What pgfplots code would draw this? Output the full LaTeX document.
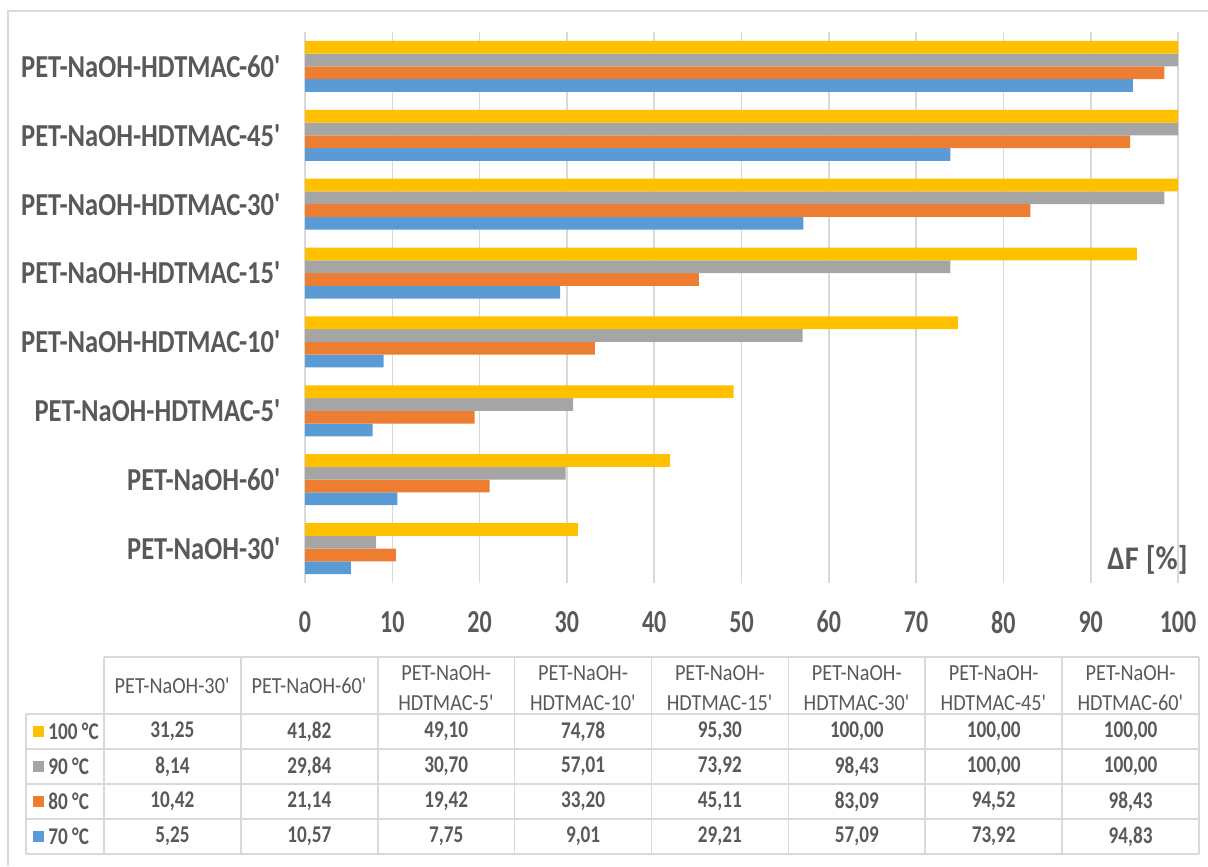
\documentclass[border=0pt]{standalone}
\usepackage{pgfplots}
\pgfplotsset{compat=1.18}
\usepackage{fontspec}
\setmainfont{Carlito}
\newfontfamily\chartfont{Carlito}[FakeStretch=0.75]
\newfontfamily\labelfont{Carlito}[FakeStretch=0.83]
\newfontfamily\unitfont{Carlito}[FakeStretch=0.92]
\newfontfamily\tablefont{Carlito}[FakeStretch=0.8]
\newfontfamily\headfont{Carlito}[FakeStretch=0.88]

\definecolor{c70}{HTML}{5B9BD5}
\definecolor{c80}{HTML}{ED7D31}
\definecolor{c90}{HTML}{A5A5A5}
\definecolor{c100}{HTML}{FFC000}
\definecolor{txt}{HTML}{595959}
\definecolor{rulegray}{HTML}{D9D9D9}

\newcommand\q{\textquotesingle}
% column centres of the data table (pixel units)
\newcommand\row[9]{%
  \node[cell] at (172.4,#1) {#2};
  \node[cell] at (309.3,#1) {#3};
  \node[cell] at (446.2,#1) {#4};
  \node[cell] at (583.1,#1) {#5};
  \node[cell] at (719.9,#1) {#6};
  \node[cell] at (856.8,#1) {#7};
  \node[cell] at (993.7,#1) {#8};
  \node[cell] at (1130.6,#1) {#9};}

\begin{document}
\begin{tikzpicture}
\useasboundingbox (0,0) rectangle (604pt,-433pt);

\begin{axis}[
  xbar,
  scale only axis,
  width=436.5pt, height=275.5pt,
  at={(152.5pt,-291.5pt)}, anchor=south west,
  xmin=0, xmax=100, ymin=-0.5, ymax=7.5,
  xtick={0,10,...,100},
  ytick={0,...,7},
  yticklabels={PET-NaOH-30\q, PET-NaOH-60\q, PET-NaOH-HDTMAC-5\q,
    PET-NaOH-HDTMAC-10\q, PET-NaOH-HDTMAC-15\q, PET-NaOH-HDTMAC-30\q,
    PET-NaOH-HDTMAC-45\q, PET-NaOH-HDTMAC-60\q},
  xmajorgrids,
  major grid style={draw=rulegray, line width=0.8pt},
  axis line style={draw=none},
  major tick length=0pt,
  bar width=0.185,
  /pgf/number format/assume math mode=true,
  xticklabel style={font=\chartfont\bfseries\fontsize{16}{18}\selectfont, text=txt, yshift=-10.5pt},
  yticklabel style={font=\labelfont\bfseries\fontsize{16}{18}\selectfont, text=txt, xshift=-8.2pt},
  clip=false,
]
\addplot[draw=none, fill=c70, bar shift=-0.2775] coordinates {
  (5.25,0) (10.57,1) (7.75,2) (9.01,3) (29.21,4) (57.09,5) (73.92,6) (94.83,7)};
\addplot[draw=none, fill=c80, bar shift=-0.0925] coordinates {
  (10.42,0) (21.14,1) (19.42,2) (33.20,3) (45.11,4) (83.09,5) (94.52,6) (98.43,7)};
\addplot[draw=none, fill=c90, bar shift=0.0925] coordinates {
  (8.14,0) (29.84,1) (30.70,2) (57.01,3) (73.92,4) (98.43,5) (100,6) (100,7)};
\addplot[draw=none, fill=c100, bar shift=0.2775] coordinates {
  (31.25,0) (41.82,1) (49.10,2) (74.78,3) (95.30,4) (100,5) (100,6) (100,7)};
\node[anchor=east, inner sep=0pt, text=txt, xshift=5pt, yshift=11.5pt,
  font=\unitfont\bfseries\fontsize{16.5}{18}\selectfont]
  at (rel axis cs:1,0) {ΔF [\%]};
\end{axis}

\begin{scope}[x=0.5pt, y=-0.5pt,
  cell/.style={text=txt, inner sep=0pt, font=\tablefont\bfseries\fontsize{12}{14}\selectfont},
  head/.style={text=txt, inner sep=0pt, align=center,
    font=\headfont\fontsize{11.5}{15}\selectfont}]
  % outer chart frame
  \draw[rulegray, line width=0.8pt] (8,866) -- (8,11) -- (1208,11);
  % table grid
  \draw[rulegray, line width=0.8pt] (104,657) -- (1199,657);
  \foreach \yy in {714,749,784,819,854}
    \draw[rulegray, line width=0.8pt] (26,\yy) -- (1199,\yy);
  \draw[rulegray, line width=0.8pt] (26,714) -- (26,854);
  \foreach \k in {0,...,8}
    \draw[rulegray, line width=0.8pt] (104+136.875*\k,657) -- (104+136.875*\k,854);
  % header
  \node[head] at (172.4,685.5) {PET-NaOH-30\q};
  \node[head] at (309.3,685.5) {PET-NaOH-60\q};
  \node[head] at (446.2,688) {PET-NaOH-\\HDTMAC-5\q};
  \node[head] at (583.1,688) {PET-NaOH-\\HDTMAC-10\q};
  \node[head] at (719.9,688) {PET-NaOH-\\HDTMAC-15\q};
  \node[head] at (856.8,688) {PET-NaOH-\\HDTMAC-30\q};
  \node[head] at (993.7,688) {PET-NaOH-\\HDTMAC-45\q};
  \node[head] at (1130.6,688) {PET-NaOH-\\HDTMAC-60\q};
  % legend keys
  \fill[c100] (33,726) rectangle (44,737);
  \fill[c90]  (33,761) rectangle (44,772);
  \fill[c80]  (33,796) rectangle (44,807);
  \fill[c70]  (33,831) rectangle (44,842);
  \node[cell, anchor=west] at (48,731.5) {100 °C};
  \node[cell, anchor=west] at (48,766.5) {90 °C};
  \node[cell, anchor=west] at (48,801.5) {80 °C};
  \node[cell, anchor=west] at (48,836.5) {70 °C};
  % values
  \row{731.5}{31,25}{41,82}{49,10}{74,78}{95,30}{100,00}{100,00}{100,00}
  \row{766.5}{8,14}{29,84}{30,70}{57,01}{73,92}{98,43}{100,00}{100,00}
  \row{801.5}{10,42}{21,14}{19,42}{33,20}{45,11}{83,09}{94,52}{98,43}
  \row{836.5}{5,25}{10,57}{7,75}{9,01}{29,21}{57,09}{73,92}{94,83}
\end{scope}
\end{tikzpicture}
\end{document}
